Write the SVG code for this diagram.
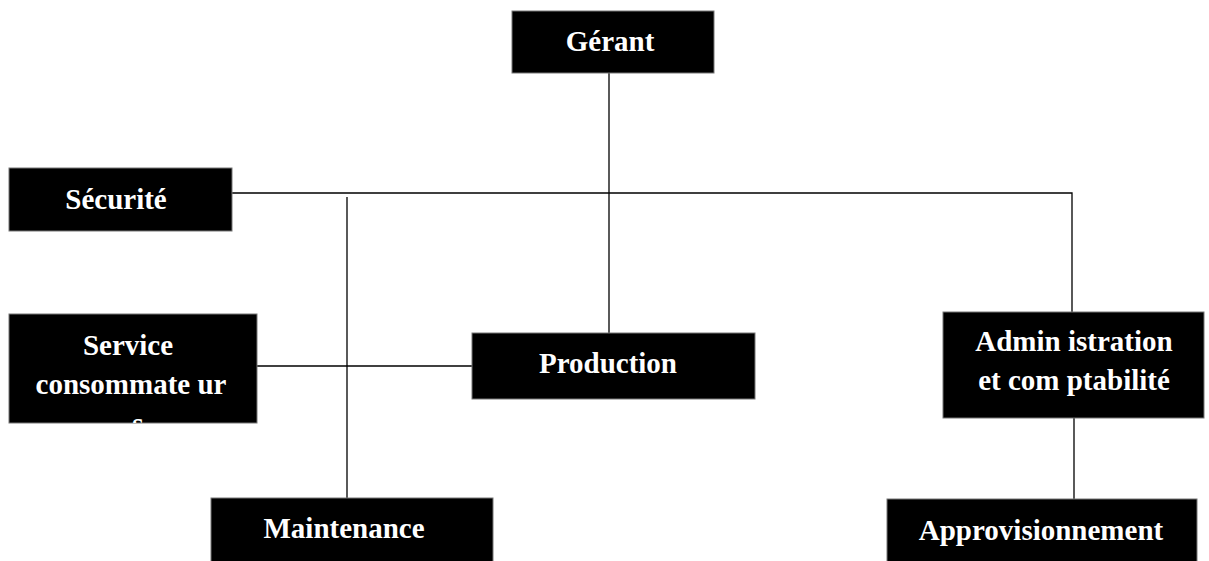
<svg xmlns="http://www.w3.org/2000/svg" width="1209" height="561" viewBox="0 0 1209 561">
<style>
.box{fill:#000;stroke:#777;stroke-width:1}
.t{font-family:"Liberation Serif","Times New Roman",serif;font-weight:bold;font-size:29px;fill:#fff;text-anchor:middle}
.c{stroke:#000;stroke-width:1.3;fill:none}
</style>
<defs>
<clipPath id="clipSvc"><rect x="9" y="314" width="248" height="109"/></clipPath>
</defs>
<rect width="1209" height="561" fill="#fff"/>
<g id="connectors">
<path class="c" d="M609 73V333"/>
<path class="c" d="M232 193H1072V312"/>
<path class="c" d="M347 197V498"/>
<path class="c" d="M257 366H472"/>
<path class="c" d="M1074 418V499"/>
</g>
<g id="gerant">
<rect class="box" x="512" y="11" width="202" height="62"/>
<text class="t" x="610" y="51">Gérant</text>
</g>
<g id="securite">
<rect class="box" x="9" y="168" width="223" height="63"/>
<text class="t" x="116" y="209">Sécurité</text>
</g>
<g id="service">
<rect class="box" x="9" y="314" width="248" height="109"/>
<g clip-path="url(#clipSvc)">
<text class="t" x="128" y="355">Service</text>
<text class="t" x="131" y="394">consommate ur</text>
<text class="t" x="138" y="433">s</text>
</g>
</g>
<g id="production">
<rect class="box" x="472" y="333" width="283" height="66"/>
<text class="t" x="608" y="373">Production</text>
</g>
<g id="administration">
<rect class="box" x="943" y="312" width="261" height="106"/>
<text class="t" x="1074" y="351">Admin istration</text>
<text class="t" x="1074" y="390">et com ptabilité</text>
</g>
<g id="maintenance">
<rect class="box" x="211" y="498" width="282" height="70"/>
<text class="t" x="344" y="538">Maintenance</text>
</g>
<g id="approvisionnement">
<rect class="box" x="887" y="499" width="310" height="70"/>
<text class="t" x="1041" y="540">Approvisionnement</text>
</g>
</svg>
